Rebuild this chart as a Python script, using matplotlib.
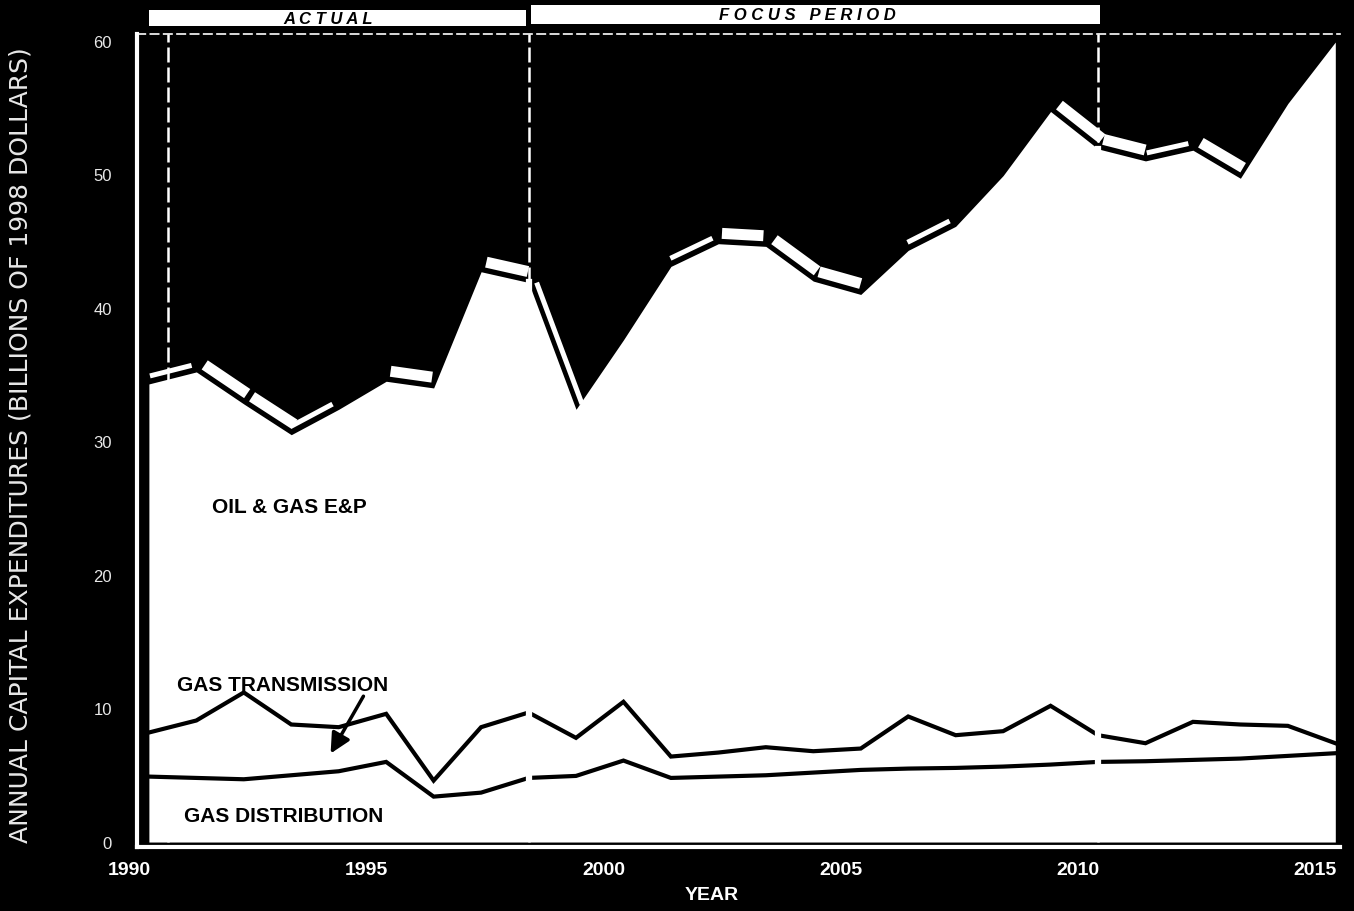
import matplotlib.pyplot as plt
from matplotlib.patches import Polygon, Rectangle
from matplotlib.transforms import ScaledTranslation
import numpy as np

plt.rcParams['font.family'] = ['Liberation Sans', 'DejaVu Sans']

years = np.arange(1990, 2016)
# top of the stack (all three together), billions of 1998 dollars
total = [34.3, 35.2, 32.8, 30.5, 32.4, 34.5, 34.0, 42.7, 41.9, 32.4,
         37.6, 43.1, 44.8, 44.6, 42.0, 41.0, 44.3, 46.1, 49.9, 54.7,
         51.9, 51.0, 51.8, 49.7, 55.3, 59.9]
transmission = [8.2, 9.1, 11.2, 8.8, 8.6, 9.6, 4.6, 8.6, 9.7, 7.8,
                10.5, 6.4, 6.7, 7.1, 6.8, 7.0, 9.4, 8.0, 8.3, 10.2,
                8.0, 7.4, 9.0, 8.8, 8.7, 7.4]
distribution = [4.9, 4.8, 4.7, 5.0, 5.3, 6.0, 3.4, 3.7, 4.8, 4.95,
                6.1, 4.8, 4.9, 5.0, 5.2, 5.4, 5.5, 5.55, 5.65, 5.8,
                6.0, 6.05, 6.15, 6.25, 6.45, 6.65]

x_ticks = [1990, 1995, 2000, 2005, 2010, 2015]
y_ticks = [0, 10, 20, 30, 40, 50, 60]
period_names = ['A C T U A L', 'F O C U S   P E R I O D']
period_spans = [(1990.0, 1997.95), (1998.05, 2010.05)]
period_label_x = [1993.77, 2003.87]
period_lines = [1990.4, 1998, 2010]

fig = plt.figure(figsize=(13.54, 9.12), dpi=100, facecolor='black')
ax = fig.add_axes([0.1012, 0.0702, 0.8885, 0.8914])
ax.set_facecolor('black')
ax.set_xlim(1989.75, 2015.1)
ax.set_ylim(-0.37, 60.5)

# white area under the total
ax.fill_between(years, 0, total, color='white', lw=0, zorder=1)
ax.plot(years, transmission, color='black', lw=3, zorder=3, solid_joinstyle='miter')
ax.plot(years, distribution, color='black', lw=3, zorder=3, solid_joinstyle='miter')

# dashed period separators, cut through the lines in the white area
for xv in period_lines:
    ax.plot([xv, xv], [0, 60.5], color='white', lw=1.8, ls=(0, (6, 2)), zorder=0.5)
for xv in period_lines[1:]:
    top = np.interp(xv, years, total)
    ax.plot([xv, xv], [0.3, top], color='white', lw=4.5, zorder=4)

# raised "bevel" strips above the top edge
bevels = {1990: 'thin', 1991: 'full', 1992: 'full', 1993: 'thin', 1995: 'full',
          1997: 'full', 1998: 'thin', 2001: 'thin', 2002: 'full', 2003: 'full',
          2004: 'full', 2006: 'thin', 2009: 'full', 2010: 'full', 2011: 'thin',
          2012: 'full'}
trans = ax.transData
for y0, kind in bevels.items():
    i = y0 - 1990
    p0 = trans.transform((years[i], total[i]))
    p1 = trans.transform((years[i + 1], total[i + 1]))
    d = p1 - p0
    u = d / np.hypot(*d)
    n = np.array([-u[1], u[0]])
    a = p0 + u * 3
    b = p1 - u * 3
    o1, o2 = (5, 16) if kind == 'full' else (5, 10)
    pts = np.array([a + n * o1, b + n * o1, b + n * o2, a + n * o2])
    ax.add_patch(Polygon(trans.inverted().transform(pts), closed=True,
                         facecolor='white', edgecolor='none', zorder=2))

# header bars
xt = ax.get_xaxis_transform()
bar_y = [(1.010, 1.029), (1.012, 1.036)]
for name, (x0, x1), xl, (b0, b1) in zip(period_names, period_spans, period_label_x, bar_y):
    ax.add_patch(Rectangle((x0, b0), x1 - x0, b1 - b0, transform=xt,
                           facecolor='white', edgecolor='none', clip_on=False))
    ax.text(xl, (b0 + b1) / 2, name, transform=xt, ha='center', va='center',
            fontsize=12, fontweight='bold', fontstyle='italic', color='black')

# labels inside the chart
ax.text(1991.33, 25.1, 'OIL & GAS E&P', fontsize=15, fontweight='bold',
        color='black', va='center', zorder=5)
ax.text(1990.6, 11.8, 'GAS TRANSMISSION', fontsize=15, fontweight='bold',
        color='black', va='center', zorder=5)
ax.text(1990.74, 1.95, 'GAS DISTRIBUTION', fontsize=15, fontweight='bold',
        color='black', va='center', zorder=5)
ax.annotate('', xy=(1993.8, 6.45), xytext=(1994.55, 11.1),
            arrowprops=dict(arrowstyle='-|>', color='black', lw=2.5,
                            mutation_scale=30), zorder=5)

# axes
ax.spines['right'].set_visible(False)
ax.spines['left'].set_color('white')
ax.spines['left'].set_linewidth(3)
ax.spines['bottom'].set_color('white')
ax.spines['bottom'].set_linewidth(3)
ax.spines['top'].set_color('white')
ax.spines['top'].set_linewidth(1.2)
ax.spines['top'].set_linestyle((0, (5, 3)))

ax.set_xticks(x_ticks)
ax.set_xticklabels([str(t) for t in x_ticks])
ax.set_yticks(y_ticks)
ax.tick_params(axis='x', length=0, pad=10, labelsize=14, labelcolor='white')
ax.tick_params(axis='y', length=0, pad=18, labelsize=12, labelcolor='#e8e8e8')
for lab in ax.get_xticklabels():
    lab.set_fontweight('bold')
    lab.set_transform(lab.get_transform() + ScaledTranslation(-0.2, 0, fig.dpi_scale_trans))

ax.set_ylabel('ANNUAL CAPITAL EXPENDITURES (BILLIONS OF 1998 DOLLARS)',
              color='#e8e8e8', fontsize=18, family='DejaVu Sans')
ax.yaxis.set_label_coords(-0.087, 0.496)
ax.text(0.478, -0.058, 'YEAR', transform=ax.transAxes, ha='center', va='center',
        fontsize=14, fontweight='bold', color='white')

fig.savefig('out.png', dpi=100, facecolor='black')
